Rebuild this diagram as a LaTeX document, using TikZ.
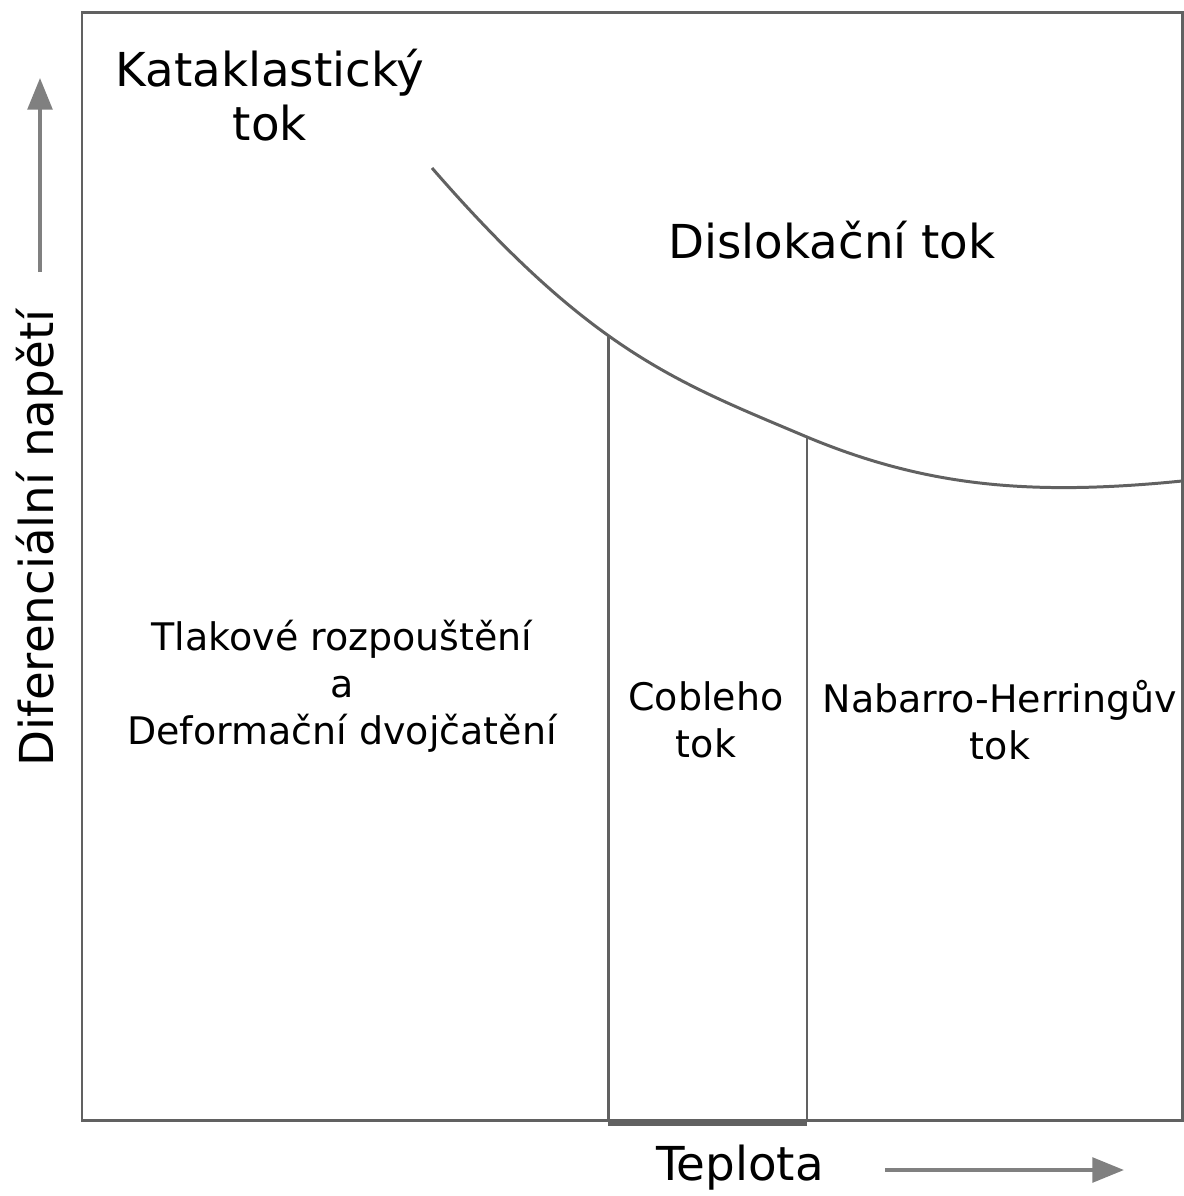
\documentclass[tikz,border=0pt]{standalone}
\usepackage{fontspec}
\setmainfont{DejaVu Sans}
\usetikzlibrary{arrows.meta}
\definecolor{linegray}{gray}{0.38}
\definecolor{arrowgray}{gray}{0.5}
\tikzset{
	bigtext/.style={font=\fontsize{13.3}{15.4}\selectfont, align=center, inner sep=0pt},
	smalltext/.style={font=\fontsize{10.8}{13.4}\selectfont, align=center, inner sep=0pt},
	axisarrow/.style={draw=arrowgray, line width=1.1pt, -{Triangle[length=9pt,width=7pt]}}
}

\begin{document}
\begin{tikzpicture}[x=0.01cm,y=-0.01cm,line width=0.85pt]
		\useasboundingbox (0,0) rectangle (1184,1196);
		\coordinate (BL) at (82,1120);
		\coordinate (TR) at (1182,12);
		\coordinate (C0) at (432,168);
		\coordinate (C2) at (807,437);
		\coordinate (C3) at (1182,481);
		\draw[linegray] (BL) rectangle (TR);
		\draw[linegray] (C0) .. controls (592,352) and (677,382) .. coordinate[pos=0.435] (C1) (C2)
			.. controls (927,487) and (1032,496) .. (C3);
		\draw[linegray] (C1) -- (C1 |- BL);
		\draw[linegray] (C2) -- (C2 |- BL);
		\draw[linegray,line width=1.2pt] ([yshift=-1pt]C1 |- BL) -- ([yshift=-1pt]C2 |- BL);

		\node[bigtext] (kata) at (270,95) {Kataklastický\\tok};
		\node[bigtext] (disl) at (832,240) {Dislokační tok};
		\node[smalltext] (tlak) at (342,686) {Tlakové rozpouštění\\a\\Deformační dvojčatění};
		\node[smalltext] (coble) at (706,720) {Cobleho\\tok};
		\node[smalltext] (nabarro) at (1000,720) {Nabarro-Herringův\\tok};

		\node[bigtext] (tepl) at (740,1168) {Teplota};
		\node[bigtext,rotate=90] (napeti) at (40,538) {Diferenciální napětí};
		\coordinate (up0) at (40,272);
		\coordinate (up1) at (40,78);
		\coordinate (right0) at (885,1170);
		\coordinate (right1) at (1124,1170);
		\draw[axisarrow] (up0) -- (up1);
		\draw[axisarrow] (right0) -- (right1);
\end{tikzpicture}
\end{document}
